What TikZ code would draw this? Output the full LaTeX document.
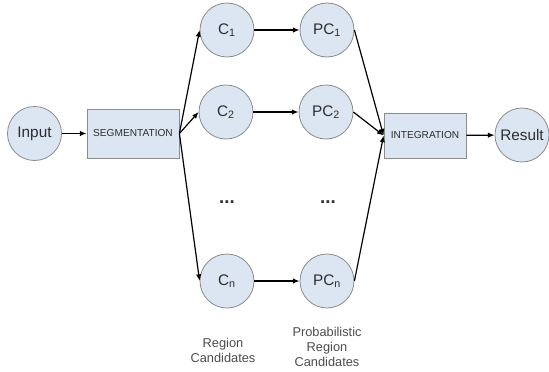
\documentclass[tikz,border=0pt]{standalone}
\usepackage{fontspec}
\setmainfont{Liberation Sans}
\usepackage{xcolor}
\usepackage{tikz}
\usetikzlibrary{arrows.meta,calc,positioning}

\definecolor{cellfill}{RGB}{220,229,242}
\definecolor{celledge}{RGB}{140,140,140}
\definecolor{celltext}{RGB}{45,45,45}

\tikzset{
  stage/.style={circle,draw=celledge,fill=cellfill,line width=0.6pt,minimum size=40.5pt,inner sep=0pt,text=celltext,font=\fontsize{11.5}{13}\selectfont},
  proc/.style={rectangle,draw=celledge,fill=cellfill,line width=0.6pt,inner sep=0pt,text=celltext,font=\fontsize{7.6}{9}\selectfont},
  flow/.style={line width=0.9pt,-{Latex[length=5pt,width=4pt]}},
  caption/.style={align=center,text=celltext!85,font=\fontsize{9.6}{11.3}\selectfont},
  gap/.style={text=celltext,font=\fontsize{14}{16}\selectfont\bfseries}
}

\begin{document}
\begin{tikzpicture}[x=0.75pt,y=-0.75pt]
\useasboundingbox (0,0) rectangle (549,371);
\node[stage] (in) at (34.5,133.5) {Input};
\node[proc,minimum width=69pt,minimum height=36.75pt] (seg) at (133,133.5) {SEGMENTATION};
\node[stage] (c1) at (227,30) {C\textsubscript{1}};
\node[stage] (c2) at (226,112) {C\textsubscript{2}};
\node[stage] (cn) at (227,281) {C\textsubscript{n}};
\node[stage] (p1) at (327,30) {PC\textsubscript{1}};
\node[stage] (p2) at (326,112) {PC\textsubscript{2}};
\node[stage] (pn) at (327,281) {PC\textsubscript{n}};
\node[gap] (d1) at (227,202) {...};
\node[gap] (d2) at (328,202) {...};
\node[proc,minimum width=61.5pt,minimum height=33.75pt] (integ) at (425,135.5) {INTEGRATION};
\node[stage] (res) at (522,135) {Result};
\node[caption] (lc) at (223,350) {Region\\Candidates};
\node[caption] (lpc) at (327,347) {Probabilistic\\Region\\Candidates};
% arrows
\draw[flow] (in) -- (seg);
\draw[flow] (seg.east) -- (c1.west);
\draw[flow] (seg.east) -- (c2.west);
\draw[flow] (seg.east) -- (cn.west);
\draw[flow] (c1) -- (p1);
\draw[flow] (c2) -- (p2);
\draw[flow] (cn) -- (pn);
\draw[flow] (p1.east) -- (integ.west);
\draw[flow] (p2.east) -- (integ.west);
\draw[flow] (pn.east) -- (integ.west);
\draw[flow] (integ) -- (res);
\end{tikzpicture}
\end{document}
